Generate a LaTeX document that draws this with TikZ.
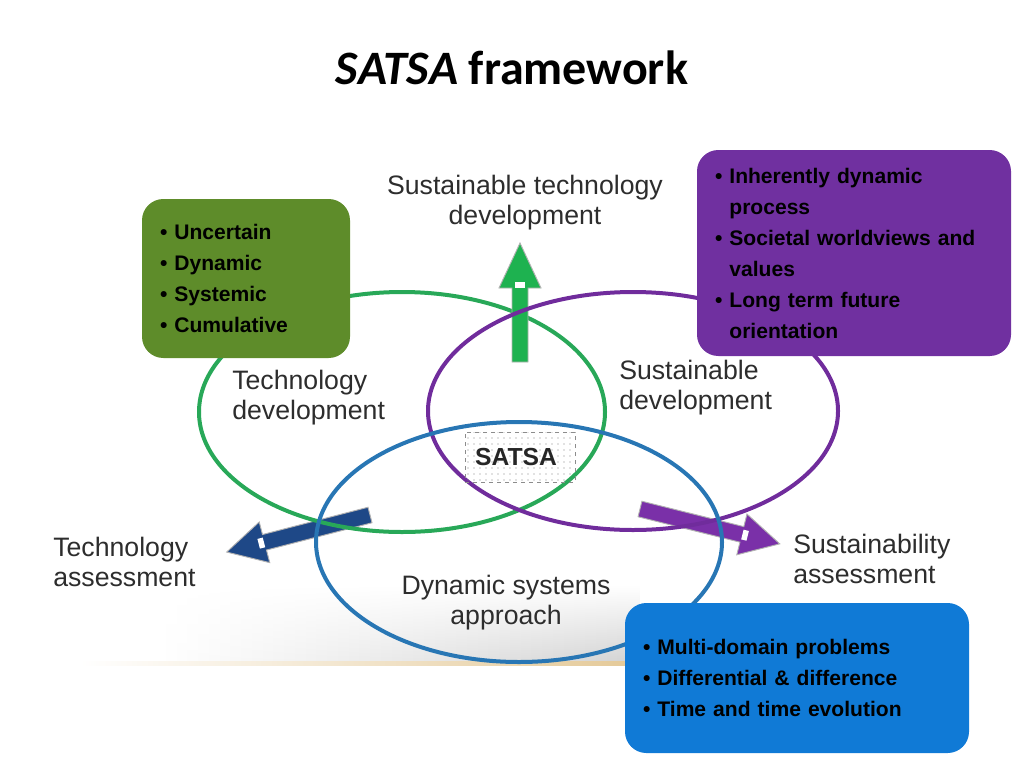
\documentclass[tikz,border=0pt]{standalone}
\usepackage{fontspec}
\setmainfont{Liberation Sans}
\newfontfamily\titlefont{Carlito}
\usetikzlibrary{patterns.meta,fadings}
\definecolor{ellG}{RGB}{40,168,88}
\definecolor{ellP}{RGB}{112,44,156}
\definecolor{ellB}{RGB}{40,118,180}
\definecolor{arrG}{RGB}{30,178,80}
\definecolor{arrB}{RGB}{30,72,135}
\definecolor{arrP}{RGB}{122,48,168}
\definecolor{boxG}{RGB}{94,140,42}
\definecolor{boxP}{RGB}{112,48,160}
\definecolor{boxB}{RGB}{16,122,214}
\definecolor{labc}{RGB}{45,45,45}
\definecolor{tan}{RGB}{225,195,140}
\newcommand\satsaArrow[7]{%
  \begin{scope}[shift={(#2,#3)},rotate=#4]
    \filldraw[fill=#1,draw=gray!60,line width=0.7pt]
      (0,-8) -- (#5-#6,-8) -- (#5-#6,-21) -- (#5,0) -- (#5-#6,21) -- (#5-#6,8) -- (0,8) -- cycle;
    \fill[white] (#5-#6+0.5,-5) rectangle (#5-#6+#7,5);
  \end{scope}}
\begin{document}
\begin{tikzpicture}[x=0.75pt,y=-0.75pt,
  ell/.style={line width=3pt},
  lab/.style={font=\fontsize{20}{22.5}\selectfont, text=labc, align=left, inner sep=0pt},
  infobox/.style={rounded corners=16pt, inner xsep=13.5pt, inner ysep=0pt, align=left,
     font=\bfseries\fontsize{15.8}{23.25}\selectfont, text=black},
]
\useasboundingbox (0,0) rectangle (1024,768);

% bottom shadow and line
\shade[left color=white, right color=gray!35, path fading=north] (160,585) rectangle (640,662);
\shade[left color=white, middle color=gray!60, right color=tan] (80,661) rectangle (700,665);

% title
\node (title) at (512,68) {\titlefont\bfseries\fontsize{36}{40}\selectfont\textit{SATSA} framework};

% side arrows
\satsaArrow{arrB}{370}{515}{194.5}{148}{39}{6}
\satsaArrow{arrP}{640}{509}{-14}{144}{39}{6}

% ellipses
\draw[ell, ellG] (402,412) ellipse [x radius=152.25pt, y radius=90pt];
\satsaArrow{arrG}{520}{362}{90}{119}{45}{6}
\draw[ell, ellP] (633,411) ellipse [x radius=153.75pt, y radius=89.25pt];
\draw[ell, ellB] (519,542) ellipse [x radius=152.25pt, y radius=90pt];

% SATSA centre box
\node[draw=gray!90, dashed, line width=0.5pt, pattern={Dots[distance=4.5pt, radius=0.5pt]}, pattern color=gray,
  minimum width=82.5pt, minimum height=37.5pt] (satsabox) at (520,457) {};
\node[font=\bfseries\fontsize{18.5}{20}\selectfont, text=black!85] (satsa) at (516,457) {SATSA};

% labels
\node[lab, align=center] (stdev) at (525,203) {Sustainable technology\\development};
\node[lab, anchor=west] (tdev) at (232,398) {Technology\\development};
\node[lab, anchor=west] (sdev) at (619,388) {Sustainable\\development};
\node[lab, anchor=west] (tass) at (53,562) {Technology\\assessment};
\node[lab, anchor=west] (sass) at (793,559) {Sustainability\\assessment};
\node[lab, align=center] (dsa) at (506,603) {Dynamic systems\\approach};

% info boxes
\node[infobox, fill=boxG, minimum width=156pt, minimum height=119.25pt, text width=129pt] (gbox) at (246,278.5)
  {• Uncertain\\• Dynamic\\• Systemic\\• Cumulative};
\node[infobox, fill=boxP, minimum width=235.5pt, minimum height=154.5pt, text width=208.5pt] (pbox) at (854,253)
  {• Inherently dynamic\\\phantom{• }process\\• Societal worldviews and\\\phantom{• }values\\• Long term future\\\phantom{• }orientation};
\node[infobox, fill=boxB, minimum width=258pt, minimum height=112.5pt, text width=231pt] (bbox) at (797,678)
  {• Multi-domain problems\\• Differential \& difference\\• Time and time evolution};
\end{tikzpicture}
\end{document}
